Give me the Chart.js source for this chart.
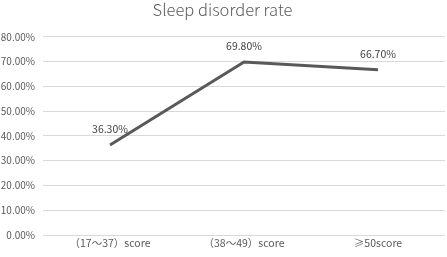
<!DOCTYPE html>
<html>
<head>
<meta charset="utf-8">
<script src="https://cdn.jsdelivr.net/npm/chart.js@4"></script>
<style>
  html, body { margin: 0; padding: 0; background: #fff; }
  #wrap { width: 447px; height: 257px; }
</style>
</head>
<body>
<div id="wrap"><canvas id="sleepChart"></canvas></div>
<script>
const categories = ["（17～37）score", "（38～49）score", "≥50score"];
const rates = [36.3, 69.8, 66.7];
const yTicks = [0, 10, 20, 30, 40, 50, 60, 70, 80];

const FONT = "'Noto Sans CJK SC', 'Noto Sans', sans-serif";

// 点の上に値を表示
const valueLabels = {
  id: "valueLabels",
  afterDatasetsDraw(chart) {
    const ctx = chart.ctx;
    const meta = chart.getDatasetMeta(0);
    ctx.save();
    ctx.font = "10.5px " + FONT;
    ctx.fillStyle = "#404040";
    ctx.textAlign = "center";
    ctx.textBaseline = "middle";
    meta.data.forEach((pt, i) => {
      ctx.fillText(rates[i].toFixed(2) + "%", pt.x, pt.y - 16);
    });
    ctx.restore();
  }
};

new Chart(document.getElementById("sleepChart"), {
  type: "line",
  data: {
    labels: categories,
    datasets: [{
      label: "Sleep disorder rate",
      data: rates,
      borderColor: "#595959",
      borderWidth: 3,
      pointRadius: 0,
      tension: 0,
      fill: false
    }]
  },
  options: {
    responsive: true,
    maintainAspectRatio: false,
    animation: false,
    layout: { padding: { top: 0, right: 2, left: 0, bottom: 0 } },
    plugins: {
      legend: { display: false },
      tooltip: { enabled: false },
      title: {
        display: true,
        text: "Sleep disorder rate",
        color: "#595959",
        font: { family: FONT, size: 16.5, weight: 300 },
        padding: { top: 0, bottom: 17 }
      }
    },
    scales: {
      x: {
        offset: true,
        grid: { display: false, drawTicks: false },
        border: { display: false },
        ticks: {
          color: "#595959",
          font: { family: FONT, size: 10.5 },
          padding: 2,
          maxRotation: 0
        },
        afterFit(scale) { scale.height = 22; }
      },
      y: {
        min: 0,
        max: 80,
        afterBuildTicks(scale) { scale.ticks = yTicks.map(v => ({ value: v })); },
        grid: { color: "#d9d9d9", lineWidth: 1, drawTicks: false },
        border: { display: false },
        ticks: {
          color: "#595959",
          font: { family: FONT, size: 10 },
          padding: 8,
          callback: v => v.toFixed(2) + "%"
        },
        afterFit(scale) { scale.width = 43; }
      }
    }
  },
  plugins: [valueLabels]
});
</script>
</body>
</html>
